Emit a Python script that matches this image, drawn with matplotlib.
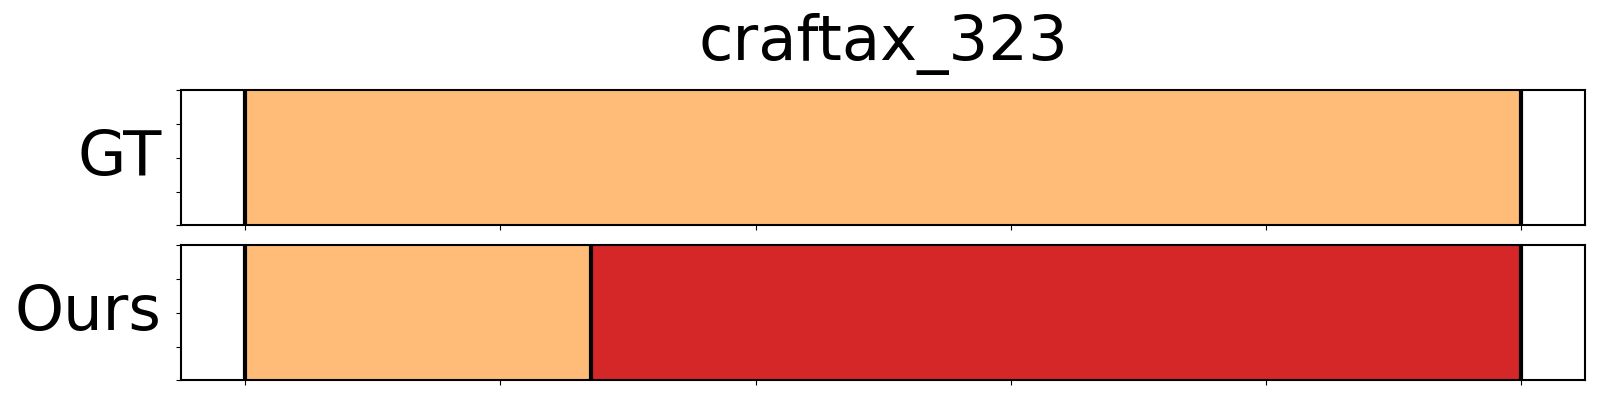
import matplotlib.pyplot as plt

title = "craftax_323"
row_labels = ["GT", "Ours"]

# segment boundaries per row (frame index) and segment colours
gt_bounds = [0, 100]
gt_colors = ["#ffbb78"]
ours_bounds = [0, 27.1, 100]
ours_colors = ["#ffbb78", "#d62728"]

rows = [(gt_bounds, gt_colors), (ours_bounds, ours_colors)]

fig, axes = plt.subplots(2, 1, figsize=(16, 4), dpi=100, sharex=True)
fig.subplots_adjust(left=0.1133, right=0.9908, top=0.774, bottom=0.049, hspace=0.148)

for ax, label, (bounds, colors) in zip(axes, row_labels, rows):
    for start, end, c in zip(bounds[:-1], bounds[1:], colors):
        ax.barh(0.5, end - start, left=start, height=1, color=c)
    for b in bounds:
        ax.axvline(b, color="black", linewidth=3)
    ax.set_ylim(0, 1)
    ax.set_xlim(-5, 105)
    ax.set_yticks([0, 0.25, 0.5, 0.75, 1])
    ax.set_yticklabels([])
    ax.set_xticks([0, 20, 40, 60, 80, 100])
    ax.tick_params(labelbottom=False)
    ax.set_ylabel(label, fontsize=45, rotation=0, ha="right", va="center", labelpad=7)
    for s in ax.spines.values():
        s.set_linewidth(1.5)

axes[0].set_title(title, fontsize=45, pad=22)

plt.savefig("out.png", dpi=100)
plt.close()
